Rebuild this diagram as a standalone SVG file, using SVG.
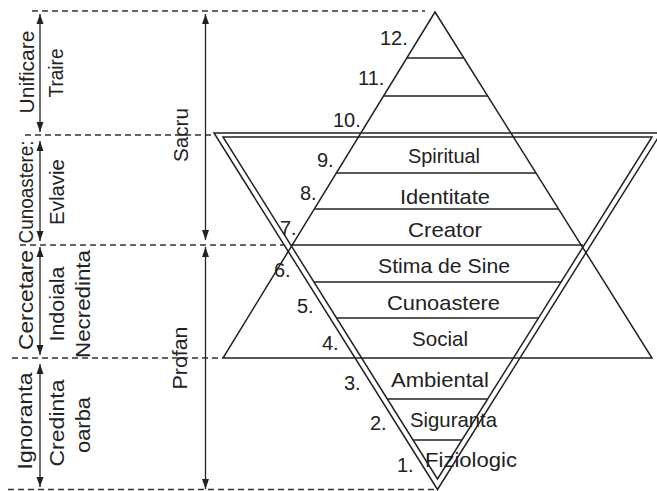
<svg xmlns="http://www.w3.org/2000/svg" width="657" height="491" viewBox="0 0 657 491">
<defs>
<style>
.ln{fill:none;stroke:#222;stroke-width:1.5}
.dash{fill:none;stroke:#333;stroke-width:1.3;stroke-dasharray:6,4}
.arr{fill:none;stroke:#222;stroke-width:1.3;marker-start:url(#ah);marker-end:url(#ah)}
text{font-family:"Liberation Sans",Arial,sans-serif;font-size:20px;fill:#222}
.lbl{text-anchor:middle;font-size:21px}
.vt{text-anchor:middle;font-size:21px}
</style>
<marker id="ah" markerUnits="userSpaceOnUse" markerWidth="10" markerHeight="8" refX="10" refY="4" orient="auto-start-reverse">
<path d="M0,0.5 L10,4 L0,7.5 z" fill="#222"/>
</marker>
</defs>
<rect width="657" height="491" fill="#fff"/>

<g id="triangles">
<polygon id="upright" class="ln" points="435,12 652,358 223,358"/>
<polygon id="inverted-outer" class="ln" points="214,133 661,133 437.5,489.5"/>
<polygon id="inverted-inner" class="ln" points="223,137 652,137 437.5,479"/>
</g>

<g id="dividers" class="ln">
<line x1="406.8" y1="58" x2="463.8" y2="58"/>
<line x1="383.5" y1="96" x2="487.7" y2="96"/>
<line x1="336.3" y1="173" x2="536" y2="173"/>
<line x1="314.2" y1="209" x2="558.5" y2="209"/>
<line x1="291" y1="245" x2="583" y2="245"/>
<line x1="313.9" y1="282" x2="561.1" y2="282"/>
<line x1="336.5" y1="318" x2="538.5" y2="318"/>
<line x1="387.3" y1="399" x2="487.7" y2="399"/>
<line x1="413" y1="440" x2="462" y2="440"/>
</g>

<g id="level-12"><text x="380" y="45">12.</text></g>
<g id="level-11"><text x="358" y="85">11.</text></g>
<g id="level-10"><text x="333" y="127">10.</text></g>
<g id="level-9"><text x="317" y="167">9.</text><text class="lbl" x="444" y="163" textLength="72" lengthAdjust="spacingAndGlyphs">Spiritual</text></g>
<g id="level-8"><text x="300" y="200">8.</text><text class="lbl" x="445" y="204" textLength="90" lengthAdjust="spacingAndGlyphs">Identitate</text></g>
<g id="level-7"><text x="280" y="235">7.</text><text class="lbl" x="445" y="237" textLength="74" lengthAdjust="spacingAndGlyphs">Creator</text></g>
<g id="level-6"><text x="274" y="277">6.</text><text class="lbl" x="444" y="273" textLength="132" lengthAdjust="spacingAndGlyphs">Stima de Sine</text></g>
<g id="level-5"><text x="297" y="313">5.</text><text class="lbl" x="443.5" y="310" textLength="113" lengthAdjust="spacingAndGlyphs">Cunoastere</text></g>
<g id="level-4"><text x="322" y="350">4.</text><text class="lbl" x="440" y="346" textLength="56" lengthAdjust="spacingAndGlyphs">Social</text></g>
<g id="level-3"><text x="344" y="390">3.</text><text class="lbl" x="440" y="387" textLength="98" lengthAdjust="spacingAndGlyphs">Ambiental</text></g>
<g id="level-2"><text x="370" y="430">2.</text><text class="lbl" x="453.5" y="427" textLength="87" lengthAdjust="spacingAndGlyphs">Siguranta</text></g>
<g id="level-1"><text x="397" y="472">1.</text><text class="lbl" x="471" y="467" textLength="92" lengthAdjust="spacingAndGlyphs">Fiziologic</text></g>

<g id="connectors">
<line class="dash" x1="32" y1="11" x2="425" y2="11"/>
<line class="dash" x1="25" y1="135" x2="213" y2="135"/>
<line class="dash" x1="20" y1="245" x2="285" y2="245"/>
<line class="dash" x1="12" y1="358" x2="223" y2="358"/>
<line class="dash" x1="8" y1="489.5" x2="434" y2="489.5"/>
<line class="arr" x1="40" y1="14" x2="40" y2="132"/>
<line class="arr" x1="40" y1="141" x2="40" y2="241"/>
<line class="arr" x1="40" y1="247" x2="40" y2="355"/>
<line class="arr" x1="40" y1="364" x2="40" y2="487"/>
<line class="arr" x1="205.5" y1="14" x2="205.5" y2="240"/>
<line class="arr" x1="205.5" y1="247" x2="205.5" y2="489"/>
</g>

<g id="stage-unificare"><text class="vt" transform="translate(34,72) rotate(-90)" textLength="83" lengthAdjust="spacingAndGlyphs">Unificare</text><text class="vt" transform="translate(63,73) rotate(-90)" textLength="49" lengthAdjust="spacingAndGlyphs">Traire</text></g>
<g id="stage-cunoastere"><text class="vt" transform="translate(33,192) rotate(-90)" textLength="103" lengthAdjust="spacingAndGlyphs">Cunoastere:</text><text class="vt" transform="translate(64,192) rotate(-90)" textLength="66" lengthAdjust="spacingAndGlyphs">Evlavie</text></g>
<g id="stage-cercetare"><text class="vt" transform="translate(33,300) rotate(-90)" textLength="100" lengthAdjust="spacingAndGlyphs">Cercetare</text><text class="vt" transform="translate(64,304) rotate(-90)" textLength="75" lengthAdjust="spacingAndGlyphs">Indoiala</text><text class="vt" transform="translate(90,304) rotate(-90)" textLength="108" lengthAdjust="spacingAndGlyphs">Necredinta</text></g>
<g id="stage-ignoranta"><text class="vt" transform="translate(32,421) rotate(-90)" textLength="97" lengthAdjust="spacingAndGlyphs">Ignoranta</text><text class="vt" transform="translate(64,423) rotate(-90)" textLength="87" lengthAdjust="spacingAndGlyphs">Credinta</text><text class="vt" transform="translate(90,425) rotate(-90)" textLength="56" lengthAdjust="spacingAndGlyphs">oarba</text></g>
<g id="sacru"><text class="vt" transform="translate(188,135) rotate(-90)" textLength="54" lengthAdjust="spacingAndGlyphs">Sacru</text></g>
<g id="profan"><text class="vt" transform="translate(187,358) rotate(-90)" textLength="63" lengthAdjust="spacingAndGlyphs">Profan</text></g>
</svg>
